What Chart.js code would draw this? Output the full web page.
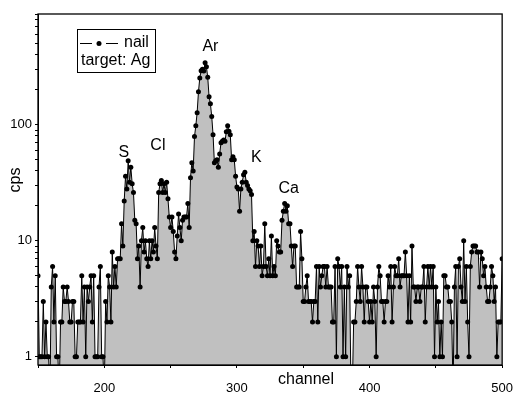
<!DOCTYPE html>
<html>
<head>
<meta charset="utf-8">
<script src="https://cdn.jsdelivr.net/npm/chart.js@4"></script>
<style>
  html, body { margin: 0; padding: 0; background: #fff; }
</style>
</head>
<body>
<canvas id="spectrum" width="526" height="394"></canvas>
<script>
// counts per channel, channel 150 .. 500
const firstChannel = 150;
const counts = [
  5, 1, 1, 1, 3, 1, 2, 1, 1, 0,
  4, 6, 2, 5, 1, 1, 0, 2, 2, 4,
  3, 3, 4, 3, 2, 2, 3, 3, 1, 1,
  2, 2, 2, 5, 2, 4, 1, 4, 3, 4,
  5, 2, 5, 1, 1, 1, 4, 6, 1, 1,
  0, 3, 2, 5, 4, 2, 8, 4, 6, 4,
  7, 7, 7, 14, 9, 22, 36, 28, 49, 32,
  43, 31, 26, 15, 14, 7, 9, 4, 10, 13,
  8, 10, 7, 6, 10, 7, 10, 8, 13, 9,
  7, 26, 31, 33, 26, 31, 26, 32, 23, 16,
  13, 16, 12, 8, 7, 11, 17, 13, 10, 15,
  16, 16, 16, 21, 13, 35, 47, 40, 79, 98,
  127, 192, 253, 292, 300, 290, 342, 316, 256, 174,
  152, 118, 82, 47, 49, 50, 43, 56, 70, 72,
  74, 72, 87, 98, 88, 82, 50, 53, 50, 36,
  29, 28, 18, 28, 32, 37, 39, 32, 30, 28,
  27, 25, 10, 12, 6, 10, 9, 6, 9, 5,
  6, 14, 6, 5, 7, 5, 11, 5, 6, 5,
  10, 9, 8, 8, 15, 18, 21, 18, 20, 14,
  14, 9, 6, 9, 9, 4, 4, 4, 12, 7,
  3, 3, 4, 5, 3, 3, 3, 2, 3, 3,
  6, 2, 6, 4, 5, 6, 6, 4, 6, 4,
  4, 4, 2, 2, 6, 1, 7, 6, 4, 6,
  1, 4, 1, 6, 4, 5, 0, 0, 2, 2,
  3, 6, 4, 3, 6, 4, 2, 4, 4, 3,
  2, 3, 2, 4, 3, 1, 4, 6, 5, 3,
  3, 2, 3, 3, 5, 4, 6, 2, 4, 6,
  5, 5, 7, 4, 5, 5, 5, 8, 5, 2,
  5, 2, 9, 4, 4, 3, 4, 4, 3, 4,
  4, 6, 2, 4, 6, 4, 6, 4, 6, 1,
  4, 2, 3, 1, 2, 1, 5, 5, 4, 4,
  3, 3, 2, 0, 4, 6, 1, 6, 7, 4,
  3, 10, 3, 6, 2, 1, 6, 8, 9, 9,
  9, 8, 8, 4, 8, 7, 5, 6, 4, 3,
  3, 4, 6, 5, 3, 4, 1, 2, 2, 2, 7
];
// zero counts cannot sit on a log axis: they are drawn just below its bottom
const zeroFloor = 0.5;

const peakNames = ['S', 'Cl', 'Ar', 'K', 'Ca'];
const peakChannels = [214.7, 240.4, 280, 314.7, 339];
const peakLabelCps = [58, 66, 475, 52, 28];

const xTicks = [150, 200, 250, 300, 350, 400, 450, 500];
const xTickLabels = ['', '200', '', '300', '', '400', '', '500'];
const yTicks = [1, 2, 3, 4, 5, 6, 7, 8, 9,
                10, 20, 30, 40, 50, 60, 70, 80, 90,
                100, 200, 300, 400, 500, 600, 700, 800, 900];
const yTickLabels = ['1', '10', '100'];

const points = counts.map((c, i) => ({ x: firstChannel + i, y: c > 0 ? c : zeroFloor }));
const FONT = '"Liberation Sans", Arial, sans-serif';

const notes = {
  id: 'notes',
  afterDatasetsDraw(chart) {
    const { ctx, chartArea: a, scales } = chart;
    ctx.save();
    ctx.strokeStyle = '#000';
    ctx.lineWidth = 1.3;
    ctx.strokeRect(a.left, a.top, a.right - a.left, a.bottom - a.top);

    ctx.fillStyle = '#000';
    ctx.font = '16px ' + FONT;
    ctx.textAlign = 'center';
    ctx.textBaseline = 'middle';
    peakNames.forEach((name, i) => {
      ctx.fillText(name, scales.x.getPixelForValue(peakChannels[i]),
                   scales.y.getPixelForValue(peakLabelCps[i]));
    });

    // axis titles
    ctx.fillText('channel', a.left + 268, a.bottom + 15);
    ctx.save();
    ctx.translate(16, a.top + 166);
    ctx.rotate(-Math.PI / 2);
    ctx.fillText('cps', 0, 0);
    ctx.restore();

    // legend box
    const lx = a.left + 39, ly = a.top + 15;
    ctx.fillStyle = '#fff';
    ctx.fillRect(lx, ly, 78, 43);
    ctx.lineWidth = 1;
    ctx.strokeRect(lx + 0.5, ly + 0.5, 78, 43);
    ctx.beginPath();
    ctx.moveTo(lx + 3, ly + 14.5); ctx.lineTo(lx + 15, ly + 14.5);
    ctx.moveTo(lx + 29, ly + 14.5); ctx.lineTo(lx + 41, ly + 14.5);
    ctx.stroke();
    ctx.fillStyle = '#000';
    ctx.beginPath();
    ctx.arc(lx + 22, ly + 14.5, 2.5, 0, Math.PI * 2);
    ctx.fill();
    ctx.textAlign = 'left';
    ctx.fillText(chart.data.datasets[0].label, lx + 47, ly + 14);
    ctx.fillText('target: Ag', lx + 4, ly + 32);
    ctx.restore();
  }
};

new Chart(document.getElementById('spectrum'), {
  type: 'line',
  data: {
    datasets: [{
      label: 'nail',
      data: points,
      borderColor: '#000',
      borderWidth: 1,
      backgroundColor: '#c0c0c0',
      fill: 'start',
      tension: 0,
      pointRadius: ctx => (ctx.raw && ctx.raw.y >= 1 ? 2.5 : 0),
      pointBackgroundColor: '#000',
      pointBorderWidth: 0
    }]
  },
  options: {
    responsive: false,
    animation: false,
    devicePixelRatio: 1,
    layout: { padding: { top: 14, right: 12, left: 0, bottom: 0 } },
    plugins: { legend: { display: false }, tooltip: { enabled: false } },
    scales: {
      x: {
        type: 'linear',
        min: 150,
        max: 500,
        afterFit: s => { s.height = 29; },
        afterBuildTicks: s => { s.ticks = xTicks.map(v => ({ value: v })); },
        grid: { drawOnChartArea: false, tickLength: 3, color: '#000' },
        border: { color: '#000', width: 1 },
        ticks: {
          padding: 13,
          color: '#000',
          font: { family: FONT, size: 13 },
          maxRotation: 0,
          autoSkip: false,
          callback: (v) => xTickLabels[xTicks.indexOf(v)] || ''
        }
      },
      y: {
        type: 'logarithmic',
        min: 0.85,
        max: 900,
        afterFit: s => { s.width = 38; },
        afterBuildTicks: s => { s.ticks = yTicks.map(v => ({ value: v })); },
        grid: { drawOnChartArea: false, tickLength: 3, color: '#000' },
        border: { color: '#000', width: 1 },
        ticks: {
          padding: 3,
          color: '#000',
          font: { family: FONT, size: 13 },
          autoSkip: false,
          callback: (v) => (yTickLabels.includes(String(v)) ? String(v) : '')
        }
      }
    }
  },
  plugins: [notes]
});
</script>
</body>
</html>
